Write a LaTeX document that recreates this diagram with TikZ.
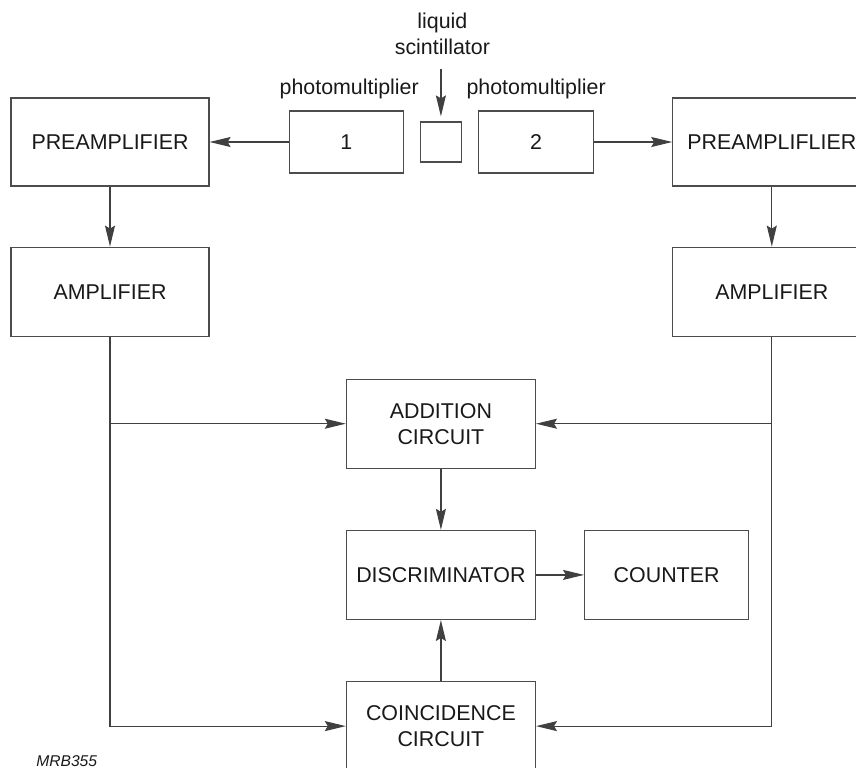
\documentclass[tikz,border=0pt]{standalone}
\usepackage{fontspec}
\setmainfont{Liberation Sans}
\usetikzlibrary{arrows.meta,positioning}

\begin{document}
\begin{tikzpicture}[
    x=0.5pt, y=-0.5pt,
    node distance=30pt and 24pt,
    box/.style={rectangle, draw=black!70, line width=0.6pt, fill=white, text=black!90,
                align=center, font=\fontsize{10.7}{13}\selectfont, minimum width=99pt, minimum height=44pt},
    tube/.style={box, minimum width=57pt, minimum height=31pt},
    circ/.style={box, minimum width=94.5pt, minimum height=44.5pt},
    lbl/.style={inner sep=0pt, align=center, font=\fontsize{10.7}{13}\selectfont, text=black!90},
    arr/.style={-{Stealth[length=10.5pt, width=5pt, inset=1.5pt]}, line width=0.6pt, black!75},
]
\useasboundingbox (0,0) rectangle (856,767);
\node[box] (preL) at (110,142) {PREAMPLIFIER};
\node[tube, right=39.5pt of preL] (pmone) {1};
\node[box, minimum width=20.5pt, minimum height=20pt, right=8pt of pmone] (scint) {};
\node[tube, minimum width=57.5pt, right=8pt of scint] (pmtwo) {2};
\node[box, right=39pt of pmtwo] (preR) {PREAMPLIFLIER};
\node[box, minimum height=44.5pt, below=30pt of preL] (ampL) {AMPLIFIER};
\node[box, minimum height=44.5pt, below=30pt of preR] (ampR) {AMPLIFIER};
\node[circ, below=108pt of scint] (add) {ADDITION\\CIRCUIT};
\node[circ, below=30.5pt of add] (disc) {DISCRIMINATOR};
\node[circ, minimum width=82pt, right=24pt of disc] (count) {COUNTER};
\node[circ, below=30.5pt of disc] (coinc) {COINCIDENCE\\CIRCUIT};

\node[lbl, above=5.75pt of pmone, xshift=1.5pt] (pmonelbl) {photomultiplier};
\node[lbl, above=5.75pt of pmtwo] (pmtwolbl) {photomultiplier};
\node[lbl, above=33pt of scint, xshift=0.75pt] (liq) {liquid\\scintillator};
\coordinate[above=26pt of scint] (liqtop);
\node[lbl, anchor=base west, font=\fontsize{7.8}{9}\selectfont\itshape] (code) at (36,766) {MRB355};

\draw[arr] (pmone) -- (preL);
\draw[arr] (pmtwo) -- (preR);
\draw[arr, shorten >=2.5pt] (liqtop) -- (scint);
\draw[arr] (preL) -- (ampL);
\draw[arr] (preR) -- (ampR);
\draw[arr] (ampL.south) |- (coinc.west);
\draw[arr] (ampL.south |- add.west) -- (add.west);
\draw[arr] (ampR.south) |- (coinc.east);
\draw[arr] (ampR.south |- add.east) -- (add.east);
\draw[arr] (add) -- (disc);
\draw[arr] (disc) -- (count);
\draw[arr] (coinc) -- (disc);
\end{tikzpicture}
\end{document}
